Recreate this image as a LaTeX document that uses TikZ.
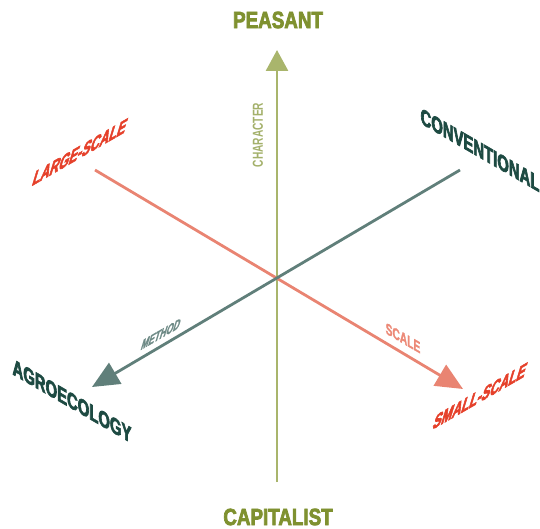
\documentclass[tikz,border=0pt]{standalone}
\usepackage{fontspec}
\usetikzlibrary{arrows.meta}
\newfontfamily\bigfont[FakeStretch=0.8,FakeBold=3]{Liberation Sans}
\newfontfamily\midfont[FakeStretch=0.66,FakeBold=3]{Liberation Sans}
\newfontfamily\smallfont[FakeStretch=0.64,FakeBold=1.5]{Liberation Sans}
\newfontfamily\charfont[FakeStretch=0.7]{Liberation Sans}
\definecolor{olivedark}{HTML}{7F9130}
\definecolor{olivelight}{HTML}{A9B56C}
\definecolor{olivetext}{HTML}{A3B06A}
\definecolor{redtext}{HTML}{E5402A}
\definecolor{salmon}{HTML}{E98472}
\definecolor{salmontext}{HTML}{EC8A78}
\definecolor{tealdark}{HTML}{1D4A42}
\definecolor{tealline}{HTML}{607F7A}
\definecolor{tealtext}{HTML}{6E8A86}
\tikzset{
  axis/.style={line width=2.8pt},
  vtip/.style={-{Triangle[length=21pt,width=22pt]}},
  dtip/.style={-{Triangle[length=27pt,width=24pt]}},
  biglab/.style={inner sep=0pt, font=\bigfont\bfseries\fontsize{23.5}{25}\selectfont},
  midlab/.style={inner sep=0pt, font=\midfont\bfseries\fontsize{22.5}{24}\selectfont},
  smalllab/.style={inner sep=0pt, font=\smallfont\bfseries\fontsize{16}{18}\selectfont},
  charlab/.style={inner sep=0pt, font=\charfont\bfseries\fontsize{14.5}{16}\selectfont},
  downslant/.style={cm={1,-0.58,0,1,(0,0)}},
  upitalic/.style={cm={0.866,0.5,0.29,0.96,(0,0)}},
}
\begin{document}
\begin{tikzpicture}[x=1pt,y=-1pt]
\useasboundingbox (0,0) rectangle (540,529);
% axis end points
\coordinate (vbot) at (277,482);
\coordinate (vtop) at (277,50);
\coordinate (rstart) at (95,170);
\coordinate (rend) at (463,389);
\coordinate (tstart) at (460,170);
\coordinate (tend) at (92,387);
% axes
\draw[axis, vtip, olivelight] (vbot) -- (vtop);
\draw[axis, dtip, salmon] (rstart) -- (rend);
\draw[axis, dtip, tealline] (tstart) -- (tend);
% end labels
\node[biglab, text=olivedark] (peasant) at (278,20) {PEASANT};
\node[biglab, text=olivedark] (capitalist) at (278,517) {CAPITALIST};
\node[midlab, text=redtext, upitalic] (large) at (80,152) {LARGE-SCALE};
\node[midlab, text=redtext, upitalic] (small) at (480,396) {SMALL-SCALE};
\node[midlab, text=tealdark, downslant] (conv) at (480,150) {CONVENTIONAL};
\node[midlab, text=tealdark, downslant] (agro) at (72,401) {AGROECOLOGY};
% axis labels
\node[charlab, text=olivetext, rotate=90] (character) at (258,135) {CHARACTER};
\node[smalllab, text=salmontext, downslant] (scale) at (403,338) {SCALE};
\node[smalllab, text=tealtext, upitalic] (method) at (161,334) {METHOD};
\end{tikzpicture}
\end{document}
